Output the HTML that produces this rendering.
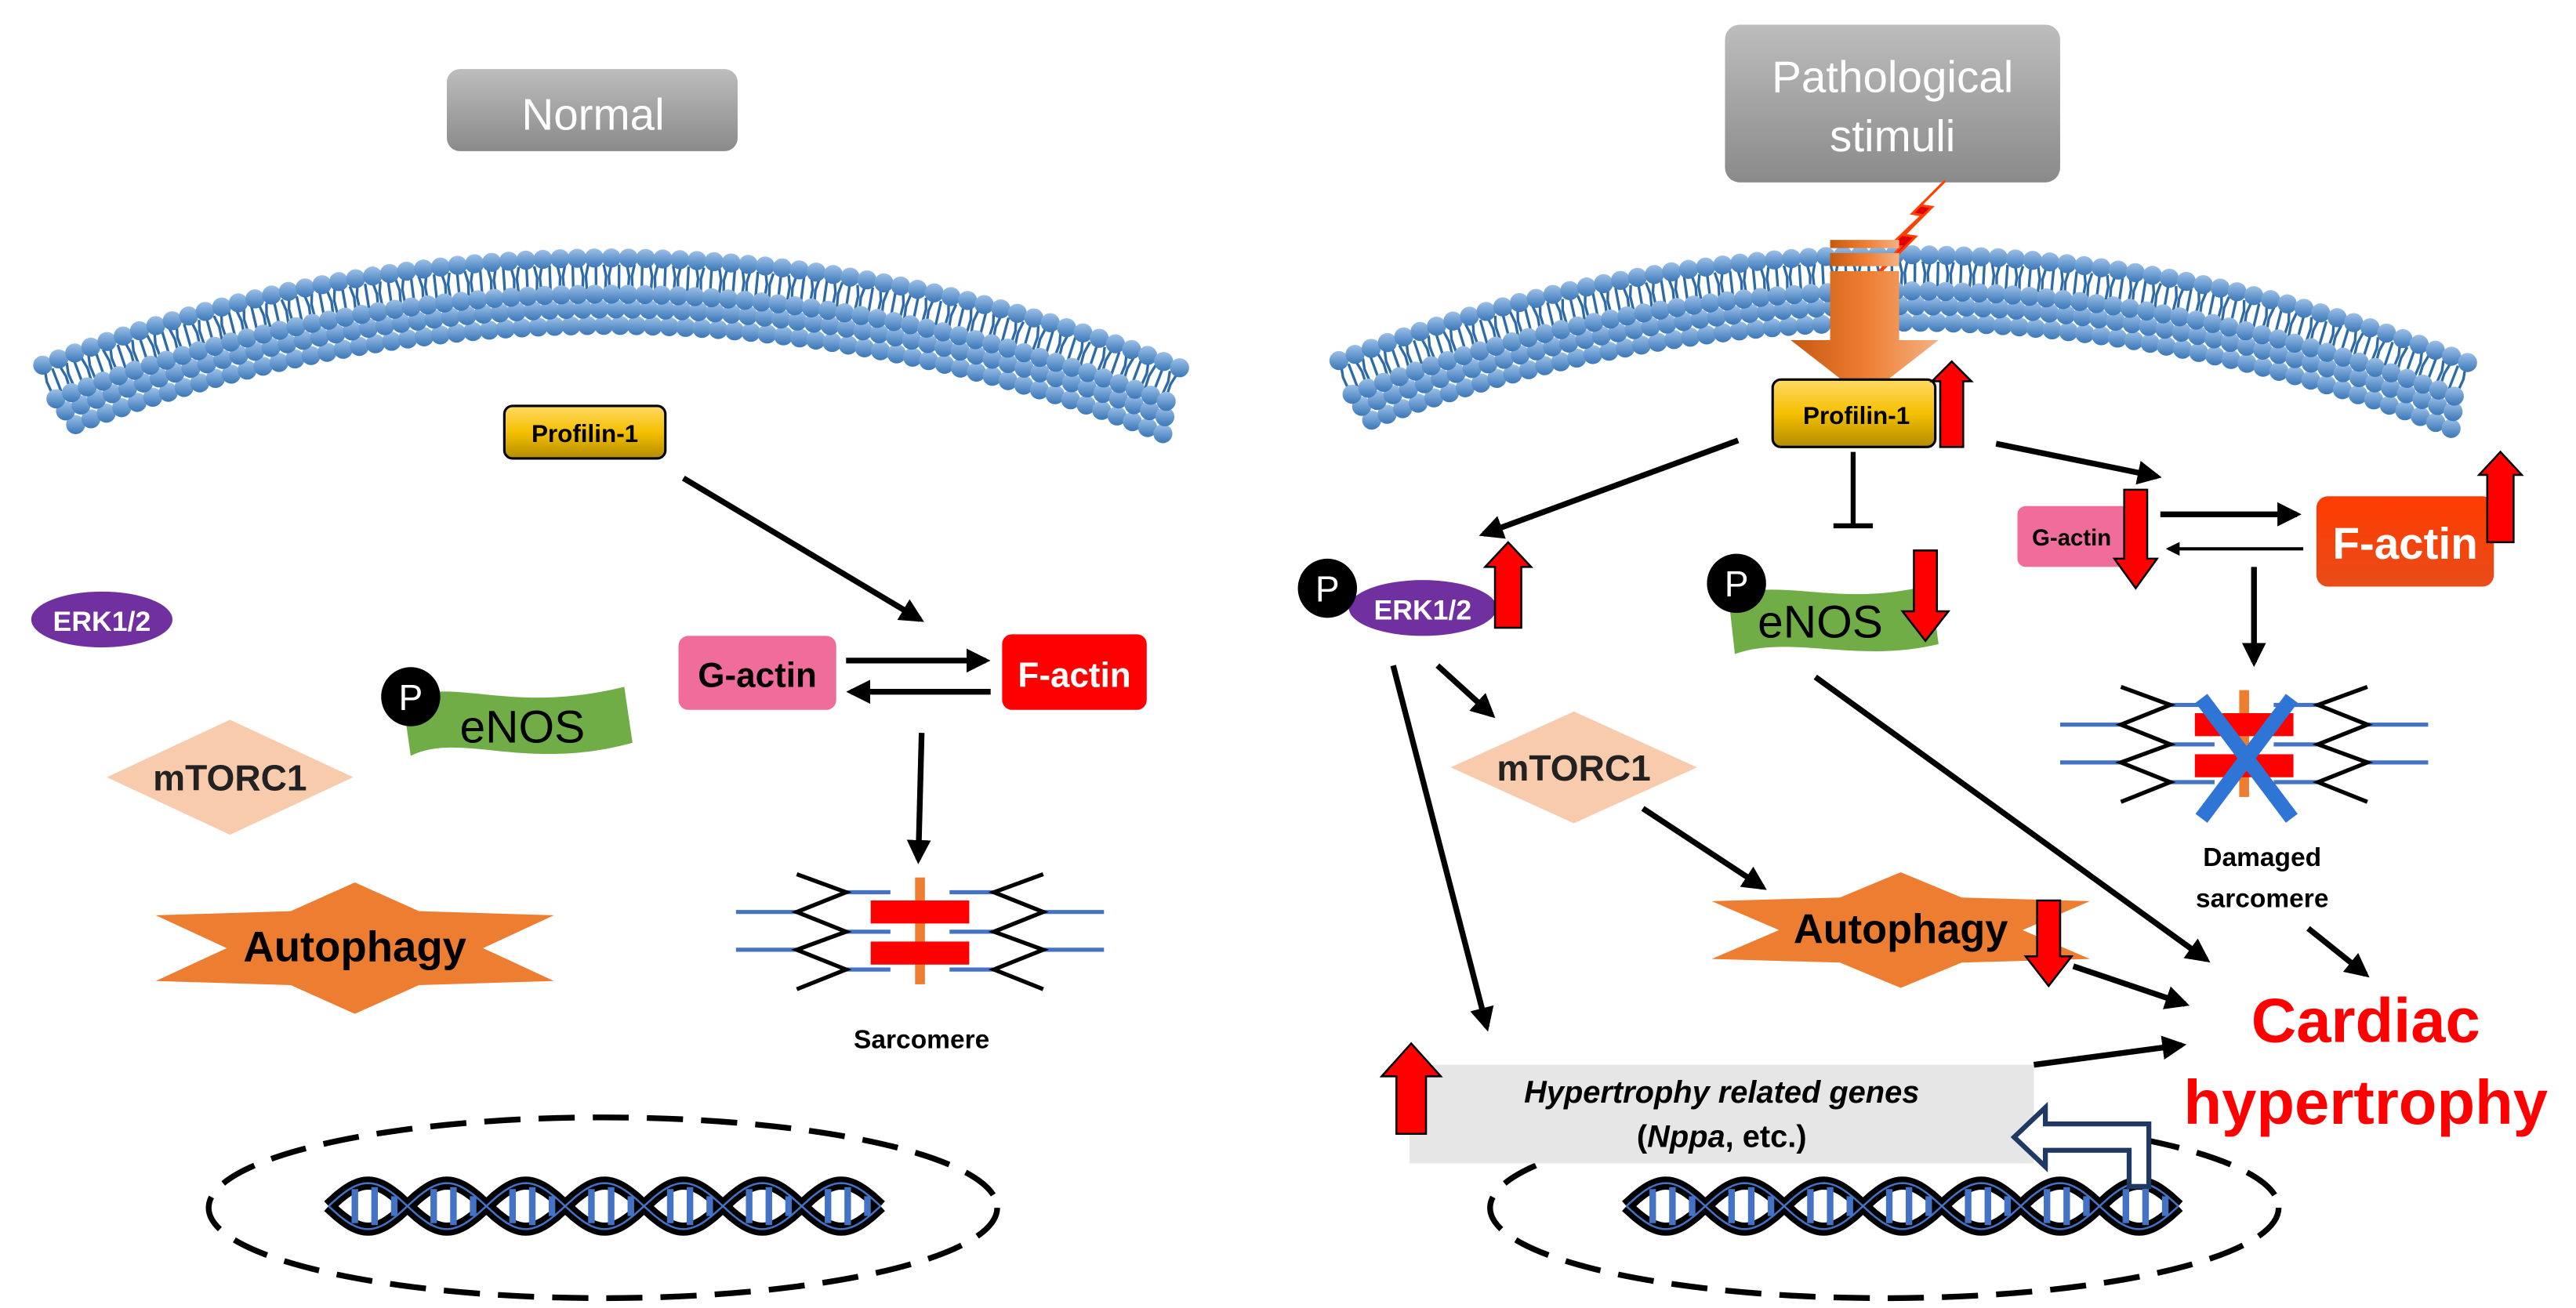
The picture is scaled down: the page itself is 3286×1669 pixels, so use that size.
<!DOCTYPE html>
<html><head><meta charset="utf-8"><style>
html,body{margin:0;padding:0;background:#fff;}
svg{display:block;}
text{font-family:"Liberation Sans",Arial,sans-serif;}
</style></head><body>
<svg id="s" width="3286" height="1669" viewBox="0 0 1568 796" preserveAspectRatio="none" xmlns="http://www.w3.org/2000/svg">
<defs>
<marker id="ah" viewBox="0 0 10 10" refX="8" refY="5" markerWidth="4.2" markerHeight="4.2" orient="auto-start-reverse"><path d="M0,0 L10,5 L0,10 z" fill="#000"/></marker>
<linearGradient id="gray" x1="0" y1="0" x2="0" y2="1"><stop offset="0" stop-color="#bdbdbd"/><stop offset="1" stop-color="#8a8a8a"/></linearGradient>
<linearGradient id="yel" x1="0" y1="0" x2="0" y2="1"><stop offset="0" stop-color="#ffd966"/><stop offset="0.5" stop-color="#f5c000"/><stop offset="1" stop-color="#b38c00"/></linearGradient>
<linearGradient id="orng" x1="0" y1="0" x2="1" y2="0"><stop offset="0" stop-color="#c55a11"/><stop offset="0.5" stop-color="#ed7d31"/><stop offset="1" stop-color="#f4b183"/></linearGradient>
<linearGradient id="fact" x1="0" y1="0" x2="0" y2="1"><stop offset="0" stop-color="#ff3b00"/><stop offset="1" stop-color="#e84c1a"/></linearGradient>
<linearGradient id="head" x1="0" y1="0" x2="0" y2="1"><stop offset="0" stop-color="#9cc0e8"/><stop offset="1" stop-color="#3a77b8"/></linearGradient>
</defs>
<g id="mem"></g>

<rect x="272" y="42" width="177" height="50" rx="8" fill="url(#gray)"/>
<text x="361" y="79" font-size="27" fill="#fff" text-anchor="middle">Normal</text>
<rect x="1050" y="15" width="204" height="96" rx="9" fill="url(#gray)"/>
<text x="1152" y="56" font-size="27" fill="#fff" text-anchor="middle">Pathological</text>
<text x="1152" y="92" font-size="27" fill="#fff" text-anchor="middle">stimuli</text>

<!-- LEFT -->
<rect x="307" y="247" width="98" height="32" rx="5" fill="url(#yel)" stroke="#000" stroke-width="1.5"/>
<text x="356" y="269" font-size="15" font-weight="bold" text-anchor="middle">Profilin-1</text>
<line x1="416" y1="291" x2="560" y2="377" stroke="#000" stroke-width="3.5" marker-end="url(#ah)"/>
<rect x="413" y="387" width="96" height="45" rx="6" fill="#f06c9b"/>
<text x="461" y="418" font-size="21" font-weight="bold" text-anchor="middle">G-actin</text>
<rect x="610" y="386" width="88" height="46" rx="6" fill="#ff0000"/>
<text x="654" y="418" font-size="21" font-weight="bold" fill="#fff" text-anchor="middle">F-actin</text>
<line x1="515" y1="402" x2="600" y2="402" stroke="#000" stroke-width="3.5" marker-end="url(#ah)"/>
<line x1="603" y1="421" x2="518" y2="421" stroke="#000" stroke-width="3.5" marker-end="url(#ah)"/>
<line x1="561" y1="446" x2="559" y2="523" stroke="#000" stroke-width="3.5" marker-end="url(#ah)"/>
<g id="sarcL" transform="translate(560,574)"></g>
<text x="561" y="638" font-size="16" font-weight="bold" text-anchor="middle">Sarcomere</text>

<ellipse cx="62" cy="377" rx="43" ry="17" fill="#7030a0"/>
<text x="62" y="384" font-size="17" font-weight="bold" fill="#fff" text-anchor="middle">ERK1/2</text>
<path d="M245,425 C280,412 310,435 380,418 L385,452 C320,470 280,445 250,460 Z" fill="#70ad47"/>
<circle cx="250" cy="424" r="18" fill="#000"/>
<text x="250" y="432" font-size="22" fill="#fff" text-anchor="middle">P</text>
<text x="318" y="452" font-size="28" text-anchor="middle">eNOS</text>
<polygon points="65,473 140,438 215,473 140,508" fill="#f8cbad"/>
<text x="140" y="481" font-size="22" font-weight="bold" text-anchor="middle" fill="#222">mTORC1</text>
<g transform="translate(216,577)"><polygon class="star" fill="#ed7d31"/></g>
<text x="216" y="585" font-size="26" font-weight="bold" text-anchor="middle">Autophagy</text>
<ellipse cx="367" cy="735" rx="240" ry="55" fill="none" stroke="#000" stroke-width="3.5" stroke-dasharray="22,11"/>
<g class="dna" transform="translate(200,734)"></g>

<!-- RIGHT -->
<polygon points="1184,110 1164,130 1170,131 1150,150 1157,150 1140,170 1166,144 1159,143 1176,126 1169,125" fill="#e00000" stroke="#ff4000" stroke-width="1.5"/>
<rect x="1114" y="146" width="42" height="5" fill="url(#orng)"/>
<rect x="1114" y="154" width="42" height="8" fill="url(#orng)"/>
<polygon points="1114,165 1156,165 1156,207 1180,207 1135,242 1090,207 1114,207" fill="url(#orng)"/>

<rect x="1079" y="231" width="99" height="41" rx="5" fill="url(#yel)" stroke="#000" stroke-width="1.5"/>
<text x="1130" y="258" font-size="15" font-weight="bold" text-anchor="middle">Profilin-1</text>
<polygon points="1188,220 1200,232 1195,232 1195,272 1181,272 1181,232 1176,232" fill="#f00" stroke="#000" stroke-width="1.2"/>

<line x1="1058" y1="268" x2="903" y2="325" stroke="#000" stroke-width="3.5" marker-end="url(#ah)"/>
<line x1="1215" y1="270" x2="1313" y2="290" stroke="#000" stroke-width="3.5" marker-end="url(#ah)"/>
<line x1="1128" y1="275" x2="1128" y2="320" stroke="#000" stroke-width="3"/>
<line x1="1116" y1="320" x2="1140" y2="320" stroke="#000" stroke-width="3"/>

<ellipse cx="866" cy="370" rx="45" ry="17" fill="#7030a0"/>
<text x="866" y="377" font-size="17" font-weight="bold" fill="#fff" text-anchor="middle">ERK1/2</text>
<circle cx="808" cy="358" r="18" fill="#000"/>
<text x="808" y="366" font-size="22" fill="#fff" text-anchor="middle">P</text>
<polygon points="918,330 932,345 926,345 926,382 910,382 910,345 904,345" fill="#f00" stroke="#000" stroke-width="1.2"/>

<path d="M1052,362 C1090,352 1120,370 1175,356 L1180,392 C1130,404 1090,386 1056,398 Z" fill="#70ad47"/>
<circle cx="1057" cy="355" r="18" fill="#000"/>
<text x="1057" y="363" font-size="22" fill="#fff" text-anchor="middle">P</text>
<text x="1108" y="388" font-size="28" text-anchor="middle">eNOS</text>
<polygon points="1165,335 1179,335 1179,372 1186,372 1172,390 1158,372 1165,372" fill="#f00" stroke="#000" stroke-width="1.2"/>

<rect x="1228" y="308" width="68" height="37" rx="5" fill="#f06c9b"/>
<text x="1261" y="332" font-size="14" font-weight="bold" text-anchor="middle">G-actin</text>
<polygon points="1293,298 1307,298 1307,340 1313,340 1300,358 1287,340 1293,340" fill="#f00" stroke="#000" stroke-width="1.2"/>
<line x1="1315" y1="313" x2="1398" y2="313" stroke="#000" stroke-width="3.5" marker-end="url(#ah)"/>
<line x1="1402" y1="334" x2="1320" y2="334" stroke="#000" stroke-width="2" marker-end="url(#ah)"/>
<rect x="1410" y="302" width="108" height="55" rx="7" fill="url(#fact)"/>
<text x="1464" y="340" font-size="27" font-weight="bold" fill="#fff" text-anchor="middle">F-actin</text>
<polygon points="1522,275 1535,289 1530,289 1530,330 1514,330 1514,289 1509,289" fill="#f00" stroke="#000" stroke-width="1.2"/>
<line x1="1372" y1="345" x2="1372" y2="403" stroke="#000" stroke-width="3.5" marker-end="url(#ah)"/>
<g id="sarcR" transform="translate(1366,460)"></g>
<path d="M1340,425 L1395,498 M1395,425 L1340,498" stroke="#2e75d6" stroke-width="9"/>
<text x="1377" y="527" font-size="16" font-weight="bold" text-anchor="middle">Damaged</text>
<text x="1377" y="552" font-size="16" font-weight="bold" text-anchor="middle">sarcomere</text>
<line x1="1405" y1="565" x2="1440" y2="593" stroke="#000" stroke-width="3.5" marker-end="url(#ah)"/>

<polygon points="883,467 958,433 1033,467 958,501" fill="#f8cbad"/>
<text x="958" y="475" font-size="22" font-weight="bold" text-anchor="middle" fill="#222">mTORC1</text>
<line x1="875" y1="405" x2="908" y2="435" stroke="#000" stroke-width="3.5" marker-end="url(#ah)"/>
<line x1="848" y1="405" x2="905" y2="625" stroke="#000" stroke-width="3.5" marker-end="url(#ah)"/>
<line x1="1000" y1="492" x2="1073" y2="540" stroke="#000" stroke-width="3.5" marker-end="url(#ah)"/>
<g transform="translate(1157,566) scale(0.95,0.88)"><polygon class="star" fill="#ed7d31"/></g>
<text x="1157" y="574" font-size="25" font-weight="bold" text-anchor="middle">Autophagy</text>
<polygon points="1240,548 1254,548 1254,582 1261,582 1247,600 1233,582 1240,582" fill="#f00" stroke="#000" stroke-width="1.2"/>
<line x1="1262" y1="588" x2="1330" y2="611" stroke="#000" stroke-width="3.5" marker-end="url(#ah)"/>
<line x1="1105" y1="412" x2="1343" y2="584" stroke="#000" stroke-width="3.5" marker-end="url(#ah)"/>

<ellipse cx="1147" cy="735" rx="240" ry="55" fill="none" stroke="#000" stroke-width="3.5" stroke-dasharray="22,11"/>
<rect x="858" y="648" width="380" height="60" fill="#e6e6e6"/>
<text x="1048" y="671" font-size="19" font-weight="bold" font-style="italic" text-anchor="middle">Hypertrophy related genes</text>
<text x="1048" y="698" font-size="19" font-weight="bold" text-anchor="middle">(<tspan font-style="italic">Nppa</tspan>, etc.)</text>
<polygon points="859,635 877,655 868,655 868,690 850,690 850,655 841,655" fill="#f00" stroke="#000" stroke-width="1.2"/>
<line x1="1238" y1="648" x2="1328" y2="636" stroke="#000" stroke-width="3.5" marker-end="url(#ah)"/>
<text x="1440" y="634" font-size="38" font-weight="bold" fill="#f00" text-anchor="middle">Cardiac</text>
<text x="1440" y="684" font-size="38" font-weight="bold" fill="#f00" text-anchor="middle">hypertrophy</text>

<g class="dna" transform="translate(990,734)"></g>
<path d="M1308,722 L1308,684 L1245,684 L1245,674 L1226,692 L1245,710 L1245,700 L1296,700 L1296,722 Z" fill="#fff" stroke="#1f3864" stroke-width="3"/>
</svg>
<script>
var NS="http://www.w3.org/2000/svg";
function el(t,a,p){var e=document.createElementNS(NS,t);for(var k in a)e.setAttribute(k,a[k]);p.appendChild(e);return e;}
var mem=document.getElementById('mem');
function membrane(cx,topY,x0,x1){
  var R=940, cy=topY+R;
  var a0=Math.asin((x0-cx)/R), a1=Math.asin((x1-cx)/R);
  var n=Math.round((x1-x0)/4.6);
  for(var i=0;i<=n;i++){var a=a0+(a1-a0)*i/n;var s=Math.sin(a),c=Math.cos(a);
    var r1=R-4,r2=R-19;
    var j=(i%3)-1;
    el('path',{d:'M'+(cx+r1*s)+','+(cy-r1*c)+' L'+(cx+(r1-7)*s+j*1.5)+','+(cy-(r1-7)*c)+' L'+(cx+r2*s+j)+','+(cy-r2*c),stroke:'#2d6aa8','stroke-width':1.6,fill:'none'},mem);}
  [41,31,22,0].forEach(function(off){
    var r=R-off; var m=Math.round((x1-x0)/10.2);
    var sh=off==31?0.003:(off==41?0.006:0);
    for(var i=0;i<=m;i++){var a=a0+(a1-a0)*i/m+sh;
      el('ellipse',{cx:cx+r*Math.sin(a),cy:cy-r*Math.cos(a),rx:5.8,ry:5.8,fill:'url(#head)'},mem);}
  });
}
membrane(370,157,26,718);
membrane(1157,155,815,1502);

function sarc(g){
  el('path',{d:'M-112,-19 L-75,-19 M-112,4 L-75,4 M-45,-31 L-18,-31 M-45,-7 L-18,-7 M-45,16 L-18,16 M18,-31 L45,-31 M18,-7 L45,-7 M18,16 L45,16 M75,-19 L112,-19 M75,4 L112,4',stroke:'#4472c4','stroke-width':2.5,fill:'none'},g);
  el('path',{d:'M-75,-42 L-45,-31 L-75,-19 L-45,-7 L-75,4 L-45,16 L-75,28 M75,-42 L45,-31 L75,-19 L45,-7 L75,4 L45,16 L75,28',stroke:'#000','stroke-width':2.5,fill:'none'},g);
  el('rect',{x:-3,y:-40,width:6,height:65,fill:'#ed7d31'},g);
  el('rect',{x:-30,y:-26,width:60,height:14,fill:'#f00'},g);
  el('rect',{x:-30,y:-1,width:60,height:14,fill:'#f00'},g);
}
sarc(document.getElementById('sarcL'));
sarc(document.getElementById('sarcR'));

var pts=[];
for(var i=0;i<12;i++){var a=Math.PI/2+i*Math.PI/6;var o=(i%2==0);
  var rx=o?140:78, ry=o?40:26; pts.push((rx*Math.cos(a)).toFixed(1)+','+(-ry*Math.sin(a)).toFixed(1));}
var stars=document.querySelectorAll('.star');
for(var k=0;k<stars.length;k++) stars[k].setAttribute('points',pts.join(' '));

var dnas=document.querySelectorAll('.dna');
for(var k=0;k<dnas.length;k++){var g=dnas[k];
  var w=336, per=96, d1='',d2='';
  for(var x=0;x<=w;x+=2){var y=14*Math.cos(2*Math.PI*(x+24)/per);d1+=(x?'L':'M')+x+','+y.toFixed(1);d2+=(x?'L':'M')+x+','+(-y).toFixed(1);}
  el('path',{d:d1,stroke:'#000','stroke-width':8,fill:'none'},g);
  el('path',{d:d2,stroke:'#000','stroke-width':8,fill:'none'},g);
  for(var x=4;x<w;x+=12){var h=12*Math.abs(Math.cos(2*Math.PI*(x+24)/per));
    if(h>4) el('line',{x1:x,y1:-h,x2:x,y2:h,stroke:'#4472c4','stroke-width':4},g);}
  el('path',{d:d1,stroke:'#4472c4','stroke-width':1.2,fill:'none'},g);
  el('path',{d:d2,stroke:'#4472c4','stroke-width':1.2,fill:'none'},g);
}
</script>
</body></html>
